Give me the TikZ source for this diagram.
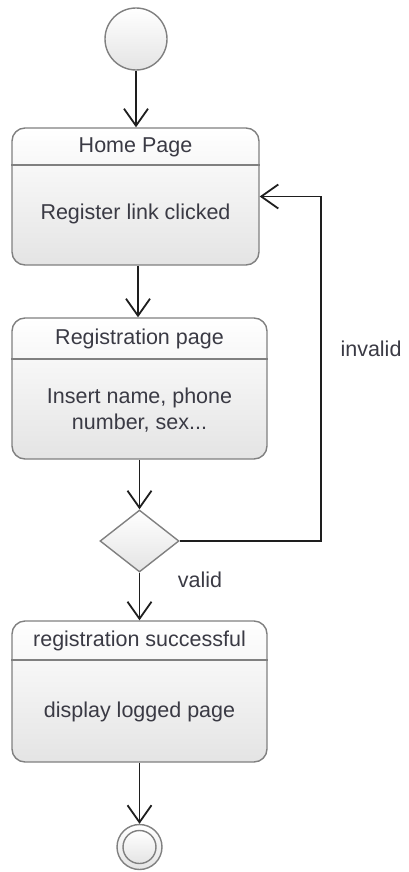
\documentclass[tikz,border=0pt]{standalone}
\usepackage{fontspec}
\setmainfont{Liberation Sans}
\usetikzlibrary{arrows.meta,shapes.geometric}
\definecolor{edge}{HTML}{808080}
\definecolor{ink}{HTML}{3A3A44}
\definecolor{shadebot}{HTML}{E4E4E4}
\definecolor{wire}{HTML}{1E1E1E}

\begin{document}
\begin{tikzpicture}[x=1pt,y=1pt,
  font=\fontsize{21.5}{26}\selectfont,
  statebox/.style={draw=edge, line width=1.4pt, rounded corners=13pt,
    top color=white, bottom color=shadebot, inner sep=0pt},
  lbl/.style={text=ink, inner sep=0pt, align=center},
  divider/.style={draw=edge, line width=1.4pt},
  arr/.style={draw=wire, line width=1.8pt,
    -{Straight Barb[length=17pt,width=24pt,line width=1.8pt]}},
  pseudo/.style={circle, draw=edge, line width=1.4pt, inner sep=0pt,
    top color=white, bottom color=shadebot}
]
\useasboundingbox (0,0) rectangle (409,-872);

% initial node
\node[pseudo, minimum size=62pt] (start) at (136,-39) {};

% Home Page
\node[statebox, minimum width=247pt, minimum height=137pt] (home) at (135.5,-196.5) {};
\draw[divider] (home.west |- 0,-165) -- (home.east |- 0,-165);
\node[lbl] (homeT) at (135.5,-147) {Home Page};
\node[lbl] (homeB) at (135.5,-214) {Register link clicked};

% Registration page
\node[statebox, minimum width=255pt, minimum height=141pt] (reg) at (139.5,-388.5) {};
\draw[divider] (reg.west |- 0,-359) -- (reg.east |- 0,-359);
\node[lbl] (regT) at (139.5,-339) {Registration page};
\node[lbl] (regB) at (139.5,-410) {Insert name, phone\\number, sex...};

% decision
\node[diamond, draw=edge, line width=1.4pt, inner sep=0pt,
      minimum width=79pt, minimum height=62pt,
      top color=white, bottom color=shadebot] (dec) at (139.5,-541) {};

% registration successful
\node[statebox, minimum width=255pt, minimum height=141pt] (ok) at (139.5,-691.5) {};
\draw[divider] (ok.west |- 0,-660) -- (ok.east |- 0,-660);
\node[lbl] (okT) at (139.5,-641) {registration successful};
\node[lbl] (okB) at (139.5,-712) {display logged page};

% final node
\node[pseudo, minimum size=45pt] (stop) at (139.5,-847) {};
\node[pseudo, minimum size=33pt] (stopIn) at (139.5,-847) {};

% transitions
\draw[arr] (start.south) -- (start.south |- home.north);
\draw[arr] (home.south -| 138,0) -- (reg.north -| 138,0);
\draw[arr] (reg.south) -- (dec.north);
\draw[arr] (dec.south) -- (ok.north);
\draw[arr] (ok.south) -- (stop.north);
\coordinate (bend) at (321,-541);
\draw[arr] (dec.east) -- (bend) |- (home.east);

\node[lbl] (inv) at (371,-349) {invalid};
\node[lbl] (val) at (200,-580) {valid};
\end{tikzpicture}
\end{document}
